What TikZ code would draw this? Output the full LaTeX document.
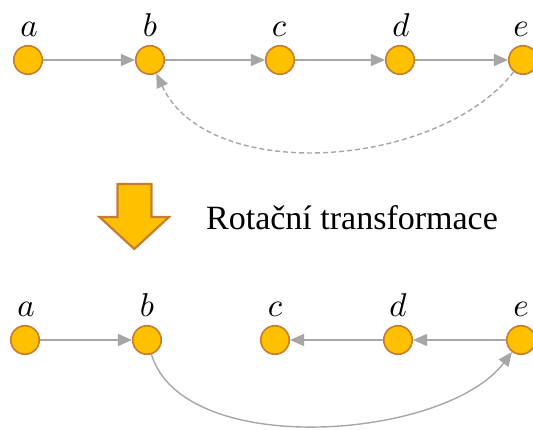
\documentclass[tikz,border=0pt]{standalone}
\usepackage{fontspec}
\setmainfont{Liberation Serif}
\usetikzlibrary{arrows.meta}
\definecolor{vfill}{HTML}{FFC000}
\definecolor{vdraw}{RGB}{196,125,50}
\definecolor{egray}{HTML}{A6A6A6}
\begin{document}
\begin{tikzpicture}[x=1pt,y=1pt,
  vert/.style={circle, fill=vfill, draw=vdraw, line width=1.6pt, minimum size=28.5pt, inner sep=0pt},
  lbl/.style={scale=3.3, inner sep=0pt, anchor=base},
  edge/.style={draw=egray, line width=1.4pt, -{Triangle[length=14pt,width=12pt]}},
  dedge/.style={edge, dashed, dash pattern=on 5pt off 3pt}]
\clip (0,0) rectangle (533,429);
% top row
\node[vert] (a1) at (28,369) {};
\node[vert] (b1) at (150,369) {};
\node[vert] (c1) at (280,369) {};
\node[vert] (d1) at (400,369) {};
\node[vert] (e1) at (523,369) {};
\node[lbl] (la1) at (29,392) {$a$};
\node[lbl] (lb1) at (150,392) {$b$};
\node[lbl] (lc1) at (279,392) {$c$};
\node[lbl] (ld1) at (401,392) {$d$};
\node[lbl] (le1) at (521,392) {$e$};
\draw[edge] (a1) -- (b1);
\draw[edge] (b1) -- (c1);
\draw[edge] (c1) -- (d1);
\draw[edge] (d1) -- (e1);
\draw[dedge] (e1) to[out=232, in=-65, looseness=0.88] (b1);
% arrow
\draw[fill=vfill, draw=vdraw, line width=2.2pt, line join=miter]
  (117.5,245) -- (151.5,245) -- (151.5,212) -- (169,212) -- (134.3,180)
  -- (99.5,212) -- (117.5,212) -- cycle;
\node[font=\fontsize{34}{38}\selectfont, inner sep=0pt, anchor=base] (t) at (352,199) {Rotační transformace};
% bottom row
\node[vert] (a2) at (25,89) {};
\node[vert] (b2) at (147,89) {};
\node[vert] (c2) at (275,89) {};
\node[vert] (d2) at (398,89) {};
\node[vert] (e2) at (521,89) {};
\node[lbl] (la2) at (26,112) {$a$};
\node[lbl] (lb2) at (147,112) {$b$};
\node[lbl] (lc2) at (275,112) {$c$};
\node[lbl] (ld2) at (398,112) {$d$};
\node[lbl] (le2) at (521,112) {$e$};
\draw[edge] (a2) -- (b2);
\draw[edge] (e2) -- (d2);
\draw[edge] (d2) -- (c2);
\draw[edge] (b2) to[out=-73, in=233, looseness=0.78] (e2);
\end{tikzpicture}
\end{document}
